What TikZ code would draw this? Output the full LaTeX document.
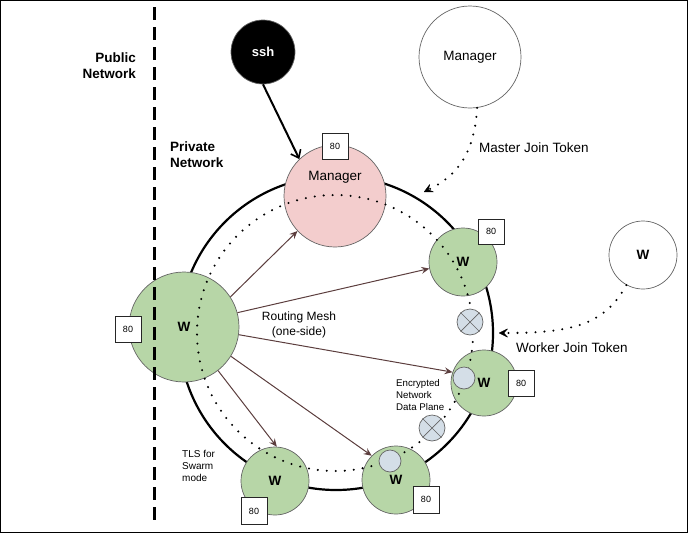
\documentclass[tikz,border=0pt]{standalone}
\usepackage{fontspec}
\setmainfont{Liberation Sans}
\usetikzlibrary{arrows.meta}
\definecolor{wgreen}{RGB}{183,214,167}
\definecolor{mpink}{RGB}{243,205,205}
\definecolor{xblue}{RGB}{212,222,231}
\definecolor{meshbrown}{RGB}{92,62,62}
\definecolor{edgegray}{RGB}{100,100,100}
\begin{document}
\begin{tikzpicture}[x=1pt,y=-1pt,
  circ/.style={circle,draw=edgegray,line width=0.7pt,inner sep=0pt},
  wnode/.style={circ,fill=wgreen,font=\fontsize{13.5}{16}\selectfont\bfseries},
  xnode/.style={circ,fill=xblue,minimum size=26pt},
  innernode/.style={circ,fill=xblue,minimum size=22pt},
  portbox/.style={draw=black!85,fill=white,line width=0.8pt,minimum width=26pt,minimum height=26pt,inner sep=0pt,font=\fontsize{9}{10}\selectfont},
  dotline/.style={line width=2.3pt,line cap=round,dash pattern=on 0pt off 9pt},
  mesharrow/.style={draw=meshbrown,line width=1pt,-{Stealth[length=8pt,width=7pt,inset=3pt]}},
  tokenarrow/.style={dotline,-{Stealth[length=10pt,width=10pt,inset=4.5pt,line width=0.6pt,round]}},
  lbl/.style={inner sep=0pt,font=\fontsize{13.5}{16}\selectfont},
  smalllbl/.style={inner sep=0pt,align=left,anchor=west,font=\fontsize{9.7}{12}\selectfont}
]
\path[use as bounding box] (0,0) rectangle (688,533);
\draw[line width=1pt] (0.5,0.5) rectangle (687.5,532.5);

% solid ring
\draw[line width=2.2pt] (336,333) circle[radius=157];

% circles
\node[circ,fill=black,minimum size=64pt,text=white,font=\fontsize{13}{16}\selectfont\bfseries] (ssh) at (263,52) {ssh};
\node[circ,fill=white,minimum size=102pt,font=\fontsize{13.5}{16}\selectfont] (mgrtop) at (470,57) {Manager};
\node[circ,fill=white,minimum size=68pt,font=\fontsize{13.5}{16}\selectfont\bfseries] (wtop) at (643,255) {W};
\node[circ,fill=mpink,minimum size=102pt] (mgr) at (335,196) {};
\node[lbl] (mgrtxt) at (335,177) {Manager};
\node[wnode,minimum size=110pt] (wbig) at (184,327) {W};
\node[wnode,minimum size=68pt] (w1) at (463,262) {W};
\node[wnode,minimum size=66pt] (w2) at (484,383) {\hspace*{0pt}W};
\node[wnode,minimum size=68pt] (w3) at (396,480) {W};
\node[wnode,minimum size=68pt] (w4) at (275,481) {W};

% dashed boundary
\draw[line width=3pt,dash pattern=on 13pt off 7pt] (154,7) -- (154,521);

% dotted ring
\draw[dotline] (335,333) circle[radius=138];

% crossed circles and inner circles
\node[xnode] (x1) at (470,322) {};
\draw[edgegray,line width=0.7pt] (x1.45) -- (x1.225) (x1.135) -- (x1.315);
\node[xnode] (x2) at (432,428) {};
\draw[edgegray,line width=0.7pt] (x2.45) -- (x2.225) (x2.135) -- (x2.315);
\node[innernode] (in2) at (464,378) {};
\node[innernode] (in3) at (390,461) {};

% port boxes
\node[portbox,minimum height=26pt] (pbig) at (128,329) {80};
\node[portbox] (pmgr) at (335,146) {80};
\node[portbox,minimum height=25pt] (p1) at (491,231.5) {80};
\node[portbox] (p2) at (521,383) {80};
\node[portbox,minimum height=27pt] (p3) at (426,499.5) {80};
\node[portbox,minimum height=27pt] (p4) at (254,511) {80};

% ssh arrow
\draw[line width=2pt,-{Straight Barb[length=7pt,width=11pt,line width=1.6pt]}] (ssh.south) -- (mgr.134);

% routing mesh arrows
\draw[mesharrow] (wbig.33) -- (mgr.223);
\draw[mesharrow] (wbig.15) -- (w1.191);
\draw[mesharrow] (wbig.-8) -- (w2.161);
\draw[mesharrow] (wbig.-32) -- (w3.135);
\draw[mesharrow] (wbig.-52) -- (w4.87);

% token arrows
\coordinate (mtip) at (424,192);
\coordinate (wtip) at (499,333);
\draw[tokenarrow] (mgrtop.278) .. controls (474,160) and (452,178) .. (mtip);
\draw[tokenarrow] (wtop.241) .. controls (604,326) and (570,333) .. (wtip);

% labels
\node[lbl,align=right,anchor=east,font=\fontsize{13.5}{16}\selectfont\bfseries] (pub) at (136,66) {Public\\Network};
\node[lbl,align=left,anchor=west,font=\fontsize{13.5}{16}\selectfont\bfseries] (priv) at (170,154.5) {Private\\Network};
\node[lbl,anchor=west] (mjt) at (479,148) {Master Join Token};
\node[lbl,anchor=west] (wjt) at (516,348) {Worker Join Token};
\node[inner sep=0pt,align=center,font=\fontsize{12}{15}\selectfont] (rm) at (299,324.5) {Routing Mesh\\(one-side)};
\node[smalllbl] (enc) at (396,395) {Encrypted\\Network\\Data Plane};
\node[smalllbl,font=\fontsize{10}{12}\selectfont] (tls) at (182,466) {TLS for\\Swarm\\mode};
\end{tikzpicture}
\end{document}
